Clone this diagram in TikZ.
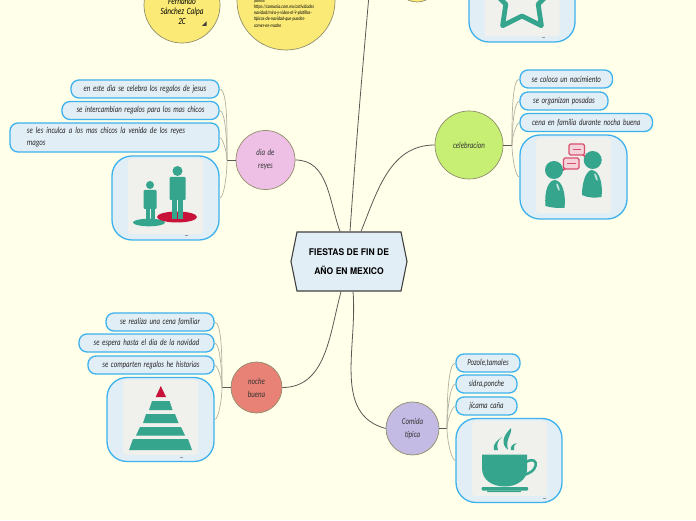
\documentclass[tikz,border=0pt]{standalone}
\usepackage{fontspec}
\usetikzlibrary{
    shapes.symbols,
    arrows.meta
}
\newfontfamily\hojafont[FakeStretch=0.76,WordSpace=1.7]{Carlito}
\newfontfamily\titulofont[FakeStretch=0.93]{TeX Gyre Heros}
\definecolor{fondo}{HTML}{FFFFEA}
\definecolor{hojafill}{HTML}{E2EEF6}
\definecolor{hojaborde}{HTML}{3DB1EE}
\definecolor{linea}{HTML}{5A5A55}
\definecolor{lineaclara}{HTML}{B3B2A2}
\definecolor{icono}{HTML}{35A58D}
\definecolor{rojo}{HTML}{C8123A}
\definecolor{globo}{HTML}{D9506E}
\definecolor{gris}{HTML}{F0F0EC}
\definecolor{amarillo}{HTML}{FBEB76}
\definecolor{rosa}{HTML}{EFC0E6}
\definecolor{verde}{HTML}{C6EF73}
\definecolor{salmon}{HTML}{E98276}
\definecolor{lila}{HTML}{C3BBE3}
\tikzset{
    tema/.style={
        circle,
        draw=gray!75!olive,
        line width=0.7pt,
        inner sep=0pt,
        align=center,
        font=\hojafont\itshape\fontsize{9}{13}\selectfont,
        text=black!80
    },
    hoja/.style={
        draw=hojaborde,
        fill=hojafill,
        line width=1.3pt,
        rounded corners=8pt,
        inner sep=0pt,
        minimum height=18pt,
        align=left,
        font=\hojafont\itshape\fontsize{9}{12}\selectfont,
        text=black!85
    },
    marco/.style={
        hoja,
        rounded corners=20pt,
        minimum width=106pt,
        minimum height=84pt
    },
    imagen/.style={
        fill=gris,
        rounded corners=3pt,
        inner sep=0pt,
        minimum size=75pt
    },
    rama/.style={
        draw=linea,
        line width=0.8pt
    },
    ramita/.style={
        draw=lineaclara,
        line width=0.7pt,
        out looseness=0.9,
        in looseness=0.3
    }
}

\begin{document}
\begin{tikzpicture}[x=1pt,y=1pt]

    \useasboundingbox (0,0) rectangle (696,520);
    \fill[fondo] (0,0) rectangle (696,520);

    % Centro
    \node[
        signal,
        signal to=west and east,
        signal pointer angle=157,
        draw=black!75,
        fill=hojafill,
        line width=1.1pt,
        inner sep=0pt,
        minimum width=116pt,
        minimum height=59pt,
        align=center,
        font=\titulofont\bfseries\fontsize{9.2}{19}\selectfont
    ] (centro) at (349,258.5) {FIESTAS DE FIN DE\\AÑO EN MEXICO};

    % Temas
    \node[tema, fill=amarillo, minimum size=76pt] (autor) at (182,515) {};
    \node[tema, fill=amarillo, minimum size=98pt] (fuente) at (286,519) {};
    \node[tema, fill=amarillo, minimum size=42pt] (extra) at (417,539) {};
    \node[tema, fill=rosa, minimum size=59pt] (reyes) at (265.5,360) {dia de\\reyes};
    \node[tema, fill=verde, minimum size=68pt] (celebracion) at (469,375) {celebracion};
    \node[tema, fill=salmon, minimum size=51pt] (noche) at (256.5,132.5) {noche\\buena};
    \node[tema, fill=lila, minimum size=53pt] (comida) at (412.5,91.5) {Comida\\típica};

    % Textos de los circulos amarillos
    \node[
        inner sep=0pt,
        align=center,
        font=\hojafont\itshape\fontsize{9.5}{10}\selectfont
    ] (autortexto) at (182,509) {Fernando\\Sánchez Calpa\\2C};
    \node[
        inner sep=0pt,
        text width=64pt,
        align=left,
        font=\hojafont\itshape\fontsize{5.3}{6.2}\selectfont
    ] (fuentetexto) at (286,507) {fuente:\\https://camunia.com.mx/actividades\\navidad/mira-y-video-el-9-platillos-\\tipicos-de-navidad-que-puedes-\\comer-en-madre};
    \fill[black!75] (206.5,494) -- (206.5,498.5) -- (202,494) -- cycle;

    % Hojas de dia de reyes
    \node[hoja, minimum width=148pt] (reyesa) at (145,431) {en este dia se celebra los regalos de jesus};
    \node[hoja, minimum width=157pt] (reyesb) at (140.5,409.5) {se intercambian regalos para los mas chicos};
    \node[hoja, minimum width=209pt, minimum height=29pt, text width=175pt] (reyesc) at (114.5,382.5) {se les inculca a los mas chicos la venida de los reyes\\magos};
    \node[marco, minimum width=107pt] (reyesd) at (165.5,322) {};

    % Hojas de celebracion
    \node[hoja, minimum width=92.5pt] (celeba) at (566.3,441) {se coloca un nacimiento};
    \node[hoja, minimum width=88pt] (celebb) at (564,419) {se organizan posadas};
    \node[hoja, minimum width=132.5pt] (celebc) at (586.3,397.5) {cena en familia durante nocha buena};
    \node[marco, minimum width=107pt] (celebd) at (573.5,343) {};

    % Hojas de noche buena
    \node[hoja, minimum width=108pt] (nochea) at (160,198) {se realiza una cena familiar};
    \node[hoja, minimum width=135pt] (nocheb) at (146.5,177) {se espera hasta el dia de la navidad};
    \node[hoja, minimum width=126pt] (nochec) at (151,155) {se comparten regalos he historias};
    \node[marco, minimum width=107pt] (noched) at (160.5,100.5) {};

    % Hojas de comida tipica
    \node[hoja, minimum width=64pt] (comidaa) at (488,157) {Pozole,tamales};
    \node[hoja, minimum width=61pt] (comidab) at (486.5,136) {sidra,ponche};
    \node[hoja, minimum width=61pt] (comidac) at (486.5,114) {jícama caña};
    \node[marco] (comidad) at (509,59.5) {};

    % Marco de la estrella
    \node[marco, minimum height=74pt] (estrella) at (522,515) {};

    % Ramas
    \coordinate (arriba) at (369,525);
    \path[rama]
        ([xshift=-9pt]centro.north) edge[out=110, in=0] (reyes.east)
        ([xshift=1pt]centro.north) edge[out=86, in=-95] (arriba)
        ([xshift=12pt]centro.north) edge[out=68, in=180] (celebracion.west)
        ([xshift=-8pt]centro.south) edge[out=-105, in=0] (noche.east)
        ([xshift=4pt]centro.south) edge[out=-85, in=165] (comida.west);

    % Ramitas
    \coordinate (nudoreyes) at (227,360);
    \coordinate (nudoceleb) at (512,375);
    \coordinate (nudonoche) at (222,132.5);
    \coordinate (nudocomida) at (447,91.5);

    \path[rama] (reyes.west) edge (nudoreyes);
    \path[rama] (celebracion.east) edge (nudoceleb);
    \path[rama] (noche.west) edge (nudonoche);
    \path[rama] (comida.east) edge (nudocomida);

    \path[ramita]
        (nudoreyes)
            edge[out=90, in=0] (reyesa.east)
            edge[out=90, in=0] (reyesb.east)
            edge[out=90, in=0] (reyesc.east)
            edge[out=-90, in=0] (reyesd.east)
        (nudoceleb)
            edge[out=90, in=180] (celeba.west)
            edge[out=90, in=180] (celebb.west)
            edge[out=90, in=180] (celebc.west)
            edge[out=-90, in=180] (celebd.west)
        (nudonoche)
            edge[out=90, in=0] (nochea.east)
            edge[out=90, in=0] (nocheb.east)
            edge[out=90, in=0] (nochec.east)
            edge[out=-90, in=0] (noched.east)
        (nudocomida)
            edge[out=90, in=180] (comidaa.west)
            edge[out=90, in=180] (comidab.west)
            edge[out=90, in=180] (comidac.west)
            edge[out=-90, in=180] (comidad.west);

    % Cuadros de las imagenes
    \node[imagen] (imgreyes) at (165.5,323.5) {};
    \node[imagen] (imgceleb) at (573.5,344.5) {};
    \node[imagen] (imgnoche) at (160.5,102.5) {};
    \node[imagen] (imgcomida) at (509.5,61.5) {};
    \node[imagen] (imgestrella) at (522,521) {};

    % Marcas pequenas
    \foreach \mx/\my in {186/284.7, 543/482.5, 181.5/63, 544/22}
        \fill[black!40] (\mx-1.5,\my-0.3) rectangle (\mx+1.5,\my+0.3);

    % Estrella
    \draw[icono, line width=4.8pt, line join=round]
        (522,554) -- (532,534.8) -- (553.4,531.2) -- (538.2,515.7) -- (541.4,494.3)
        -- (522,504) -- (502.6,494.3) -- (505.8,515.7) -- (490.6,531.2) -- (512,534.8) -- cycle;

    % Personas
    \fill[icono] (149,297.5) ellipse (16 and 3.8);
    \fill[rojo] (177,303) ellipse (20 and 5.5);
    \fill[icono] (150,335) circle (4);
    \fill[icono, rounded corners=1pt] (143.5,330) rectangle (156.5,311);
    \fill[icono] (145.5,312) rectangle (149.5,295);
    \fill[icono] (150.5,312) rectangle (154.5,295);
    \fill[icono] (177.5,349) circle (5);
    \fill[icono, rounded corners=1pt] (169.5,343) rectangle (185.5,320);
    \fill[icono] (172,321) rectangle (177,301);
    \fill[icono] (178,321) rectangle (183,301);

    % Conversacion
    \fill[icono] (554,350) circle (9);
    \fill[icono] (545.5,314) .. controls (544,330) and (549,340) .. (555,340)
        .. controls (563,339) and (566,325) .. (564.5,312) .. controls (558,312) and (552,312) .. (545.5,314);
    \fill[icono] (592.7,360) circle (9);
    \fill[icono] (582,325) .. controls (582,340) and (587,350) .. (592,350)
        .. controls (600,349) and (603,335) .. (601.5,323) .. controls (595,322) and (588,322) .. (582,325);
    \fill[white!70!icono, rotate around={20:(558,333)}] (558,333) ellipse (1 and 4);
    \fill[white!70!icono, rotate around={20:(596,343)}] (596,343) ellipse (1 and 4);
    \draw[globo, fill=globo!25!white, line width=1.1pt, rounded corners=1.5pt]
        (569,376) rectangle (584.5,365);
    \fill[globo] (582,365) -- (585,365) -- (585,362.5) -- cycle;
    \draw[globo, line width=1.1pt] (572.5,370.5) -- (581,370.5);
    \draw[globo, fill=globo!25!white, line width=1.1pt, rounded corners=1.5pt]
        (563.5,362) rectangle (579,351);
    \fill[globo] (563.5,353) -- (566,351) -- (563,349) -- cycle;
    \draw[globo, line width=1.1pt] (567,356.5) -- (575.5,356.5);

    % Piramide
    \fill[rojo] (160.8,134) -- (166,123) -- (155.7,123) -- cycle;
    \fill[icono] (152,119) -- (169.5,119) -- (172.5,110) -- (149,110) -- cycle;
    \fill[icono] (146,106) -- (175,106) -- (178.5,97) -- (143,97) -- cycle;
    \fill[icono] (140,93) -- (181,93) -- (185,84.5) -- (136,84.5) -- cycle;
    \fill[icono] (133,81) -- (188,81) -- (192,70) -- (129,70) -- cycle;

    % Taza
    \fill[icono] (482,65.5) -- (527,65.5) -- (527,50) .. controls (527,40) and (516,33.5) .. (505,33.5)
        .. controls (492,33.5) and (482,40) .. (482,52) -- cycle;
    \draw[icono, line width=2.5pt] (526,58) .. controls (533,62) and (537,59) .. (535.5,54)
        .. controls (534,49) and (530,47) .. (524,45);
    \fill[icono, rounded corners=1pt] (481.5,33) rectangle (528,29.5);
    \fill[icono, rounded corners=0.5pt] (487,29.5) rectangle (521,28);
    \fill[icono] (511,92) .. controls (512,84) and (505,82) .. (508,70)
        .. controls (501,76) and (502,83) .. (511,92);
    \fill[icono] (502,83) .. controls (498,80) and (492,76) .. (494,70) -- (498,70)
        .. controls (496,75) and (498,80) .. (502,83);
    \fill[icono] (517,77) .. controls (512,76) and (510,73) .. (511,70) -- (514,70)
        .. controls (513,72) and (514,75) .. (517,77);

\end{tikzpicture}
\end{document}
